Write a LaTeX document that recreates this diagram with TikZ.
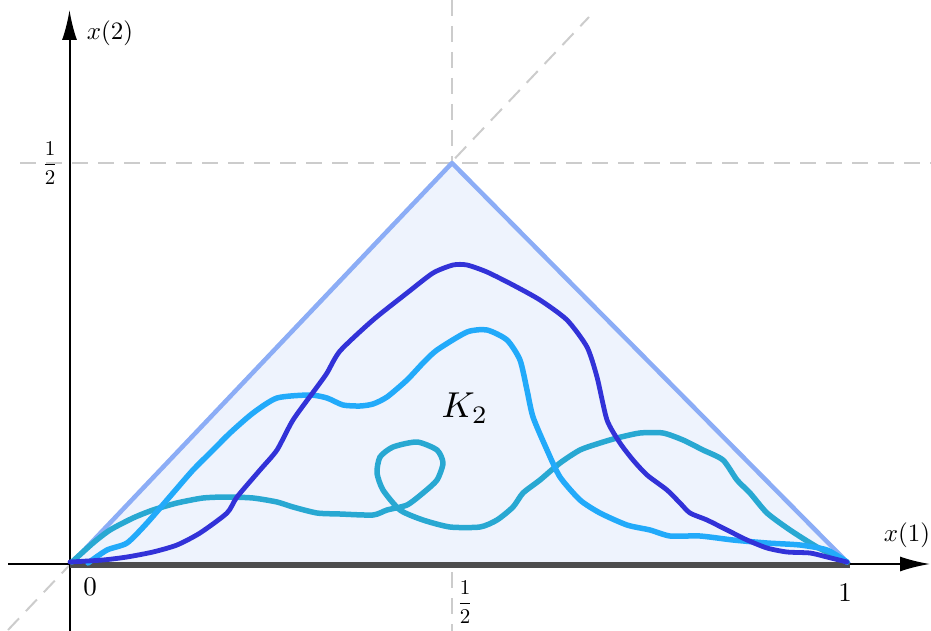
\documentclass[tikz,border=0pt]{standalone}
\usetikzlibrary{arrows.meta}
\definecolor{dblue}{HTML}{3232D8}
\definecolor{lblue}{HTML}{22AAFA}
\definecolor{tealc}{HTML}{28A8D2}
\definecolor{triedge}{HTML}{8CADF6}
\definecolor{trifill}{HTML}{EEF3FD}
\definecolor{dashgray}{HTML}{CCCCCC}
\definecolor{basegray}{HTML}{4D4D4D}
\begin{document}
\begin{tikzpicture}[x=1pt,y=-1pt,
  guide/.style={draw=dashgray, line width=2pt, dash pattern=on 16pt off 10pt},
  axisline/.style={draw=black, line width=2pt, -{Latex[length=30pt,width=15pt]}},
  walk/.style={line width=5.5pt, line join=round, line cap=round, smooth, tension=0.4},
  lab/.style={inner sep=0pt, transform shape}]
\useasboundingbox (0,0) rectangle (931,631);
% key points
\coordinate (O) at (70,565);
\coordinate (A) at (452,163);
\coordinate (B) at (850,565);
% guides
\draw[guide] (452,0) -- (452,631);
\draw[guide] (20,163) -- (931,163);
\draw[guide] (8,630) -- (589,17);
% triangle
\fill[trifill] (O) -- (A) -- (B) -- cycle;
\draw[triedge, line width=4.5pt, line join=round] (O) -- (A) -- (B);
% axes
\coordinate (xs) at (8,564);
\coordinate (xe) at (930,564);
\coordinate (ys) at (69.5,631);
\coordinate (ye) at (69.5,10);
\draw[axisline] (xs) -- (xe);
\draw[axisline] (ys) -- (ye);
% base
\draw[basegray, line width=6pt] (O) -- (B);
% walks
\draw[walk, tealc] plot coordinates {(72,562) (93,543) (110,530) (133,518) (153,510) (177,503) (203,498) (227,497) (253,498) (277,502) (293,507) (317,513) (340,514) (373,515) (387,510) (407,505) (423,493) (437,480) (443,463) (437,450) (417,442) (393,447) (380,457) (377,473) (383,490) (400,510) (423,520) (450,527) (480,527) (497,520) (513,507) (523,493) (540,480) (560,463) (580,450) (600,443) (617,438) (640,433) (663,433) (683,440) (703,450) (723,460) (737,480) (750,493) (767,513) (790,530) (817,547) (847,562)};
\draw[walk, lblue] plot coordinates {(88,563) (107,550) (127,543) (147,523) (173,493) (193,470) (213,450) (230,433) (253,413) (277,398) (310,395) (327,398) (343,405) (360,406) (373,404) (387,397) (407,380) (423,363) (437,350) (467,332) (487,330) (507,340) (520,360) (527,390) (533,417) (547,450) (560,477) (580,500) (600,513) (627,525) (650,530) (670,536) (700,536) (733,540) (767,543) (800,545) (827,550) (847,562)};
\draw[walk, dblue, line width=4.8pt] plot coordinates {(70,562) (103,560) (127,557) (153,552) (177,545) (200,533) (227,513) (237,497) (260,470) (277,450) (293,420) (317,387) (327,373) (340,351) (373,320) (407,293) (433,273) (453,265) (467,265) (487,272) (513,285) (540,300) (567,320) (587,347) (597,377) (607,420) (620,443) (633,460) (647,475) (667,490) (680,503) (690,513) (707,520) (727,530) (747,540) (767,548) (787,552) (810,553) (827,557) (847,562)};
% labels
\node[lab, scale=2.5] (lx2) at (110,33) {$x(2)$};
\node[lab, scale=2.5] (lx1) at (907,535) {$x(1)$};
\node[lab, scale=2.1] (lhalfy) at (50,163) {$\displaystyle\frac{1}{2}$};
\node[lab, scale=2.1] (lhalfx) at (465,602) {$\displaystyle\frac{1}{2}$};
\node[lab, scale=2.7] (lzero) at (90,587) {$0$};
\node[lab, scale=2.7] (lone) at (845,593) {$1$};
\node[lab, scale=3.6] (lK) at (465,408) {$K_2$};
\end{tikzpicture}
\end{document}
